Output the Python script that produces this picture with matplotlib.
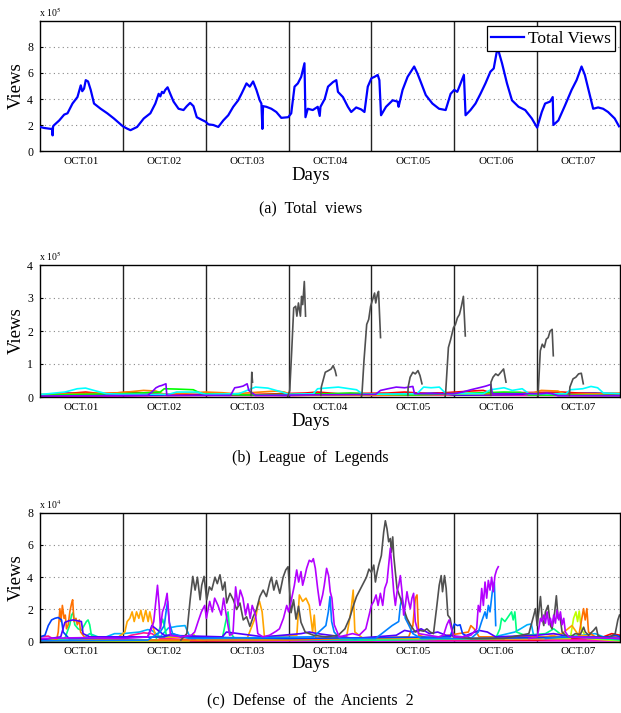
import numpy as np
import matplotlib
matplotlib.use("Agg")
import matplotlib.pyplot as plt

nan = np.nan

day_labels = ["OCT.01", "OCT.02", "OCT.03", "OCT.04", "OCT.05", "OCT.06", "OCT.07"]

# (a) total views: (day, views / 1e5)
total_views = [
    (0.0, 1.85), (0.052, 1.77), (0.132, 1.7), (0.148, 1.72), (0.152, 1.2), (0.158, 1.9),
    (0.172, 2.0), (0.232, 2.35), (0.292, 2.8), (0.332, 2.9), (0.392, 3.65), (0.452, 4.15),
    (0.492, 5.05), (0.51, 4.6), (0.532, 4.8), (0.552, 5.45), (0.58, 5.35), (0.612, 4.7),
    (0.652, 3.65), (0.732, 3.25), (0.812, 2.9), (0.892, 2.5), (1.0, 1.9), (1.052, 1.72),
    (1.092, 1.6), (1.172, 1.85), (1.252, 2.5), (1.332, 2.9), (1.392, 3.65), (1.432, 4.4),
    (1.452, 4.2), (1.472, 4.55), (1.492, 4.45), (1.512, 4.7), (1.54, 4.9), (1.572, 4.4),
    (1.612, 3.8), (1.672, 3.25), (1.732, 3.15), (1.772, 3.45), (1.812, 3.7), (1.852, 3.45),
    (1.892, 2.6), (1.952, 2.4), (2.0, 2.25), (2.032, 2.05), (2.092, 2.0), (2.152, 1.85),
    (2.212, 2.35), (2.272, 2.75), (2.332, 3.4), (2.392, 3.9), (2.432, 4.4), (2.492, 5.2),
    (2.532, 4.95), (2.572, 5.35), (2.612, 4.7), (2.652, 3.9), (2.672, 3.65), (2.684, 1.7),
    (2.692, 3.45), (2.732, 3.4), (2.792, 3.25), (2.852, 3.0), (2.912, 2.55), (2.996, 2.6),
    (3.032, 2.9), (3.072, 4.95), (3.112, 5.2), (3.152, 5.7), (3.192, 6.75), (3.204, 2.6),
    (3.232, 3.25), (3.292, 3.15), (3.352, 3.4), (3.376, 2.7), (3.385, 3.4), (3.436, 4.0),
    (3.476, 4.95), (3.536, 5.3), (3.576, 5.45), (3.596, 4.55), (3.656, 4.15), (3.716, 3.4),
    (3.756, 3.0), (3.816, 3.35), (3.876, 3.2), (3.916, 3.0), (3.956, 4.95), (4.0, 5.6),
    (4.036, 5.7), (4.076, 5.85), (4.096, 5.45), (4.116, 2.75), (4.176, 3.4), (4.256, 3.9),
    (4.316, 3.8), (4.328, 3.4), (4.376, 4.7), (4.436, 5.7), (4.476, 6.1), (4.516, 6.5),
    (4.556, 5.95), (4.596, 5.3), (4.656, 4.3), (4.736, 3.65), (4.816, 3.25), (4.896, 3.15),
    (4.956, 4.4), (5.0, 4.7), (5.036, 4.55), (5.076, 5.2), (5.116, 5.85), (5.136, 2.75),
    (5.196, 3.15), (5.256, 3.65), (5.316, 4.4), (5.376, 5.2), (5.436, 6.1), (5.476, 6.35),
    (5.516, 7.75), (5.536, 7.65), (5.576, 6.75), (5.636, 5.2), (5.696, 3.9), (5.776, 3.4),
    (5.856, 3.15), (5.936, 2.5), (6.0, 1.8), (6.056, 3.0), (6.096, 3.65), (6.156, 3.8),
    (6.188, 4.15), (6.196, 2.0), (6.256, 2.35), (6.336, 3.5), (6.416, 4.7), (6.476, 5.45),
    (6.536, 6.5), (6.576, 5.85), (6.636, 4.3), (6.676, 3.25), (6.736, 3.35), (6.796, 3.25),
    (6.856, 3.0), (6.936, 2.5), (6.988, 1.9),
]

# (b) League of Legends channels: (day, views / 1e5)
lol_gray = [
    (2.548, 0.05), (2.556, 0.75), (2.565, 0.45), (nan, nan),
    (2.99, 0.02), (3.014, 0.2), (3.038, 1.4), (3.062, 2.7), (3.086, 2.75), (3.1, 2.45),
    (3.119, 2.85), (3.143, 2.45), (3.157, 3.05), (3.171, 2.8), (3.19, 3.5), (3.205, 2.45), (nan, nan),
    (3.39, 0.05), (3.395, 0.3), (3.443, 0.75), (3.481, 0.8), (3.514, 0.85), (3.538, 0.95),
    (3.562, 0.8), (3.576, 0.65), (nan, nan),
    (3.88, 0.02), (3.886, 0.1), (3.91, 1.1), (3.943, 2.2), (3.967, 2.35), (3.99, 2.75),
    (4.014, 2.95), (4.038, 3.15), (4.052, 2.85), (4.071, 3.1), (4.086, 3.2), (4.11, 1.8), (nan, nan),
    (4.44, 0.05), (4.443, 0.3), (4.467, 0.6), (4.5, 0.75), (4.529, 0.7), (4.562, 0.8),
    (4.586, 0.65), (4.61, 0.4), (nan, nan),
    (4.89, 0.02), (4.895, 0.1), (4.929, 1.5), (4.957, 1.75), (4.99, 2.1), (5.014, 2.2),
    (5.038, 2.4), (5.062, 2.5), (5.086, 2.75), (5.11, 3.05), (5.133, 1.85), (nan, nan),
    (5.44, 0.05), (5.443, 0.45), (5.467, 0.6), (5.5, 0.7), (5.529, 0.65), (5.562, 0.75),
    (5.595, 0.85), (5.624, 0.45), (nan, nan),
    (6.01, 0.02), (6.014, 0.2), (6.038, 1.4), (6.062, 1.6), (6.086, 1.5), (6.11, 1.75),
    (6.133, 1.8), (6.157, 2.0), (6.181, 2.05), (6.195, 1.25), (nan, nan),
    (6.39, 0.05), (6.395, 0.3), (6.433, 0.55), (6.467, 0.6), (6.5, 0.7), (6.533, 0.72), (6.557, 0.4),
]
lol_purple = [
    (0, 0.03), (1.3, 0.05), (1.35, 0.15), (1.4, 0.28), (1.44, 0.33), (1.47, 0.35), (1.5, 0.38),
    (1.52, 0.4), (1.53, 0.05), (2.3, 0.05), (2.35, 0.28), (2.4, 0.3), (2.45, 0.33), (2.5, 0.4),
    (2.52, 0.2), (2.6, 0.05), (4.05, 0.08), (4.11, 0.2), (4.2, 0.25), (4.3, 0.3), (4.4, 0.28),
    (4.5, 0.32), (4.52, 0.1), (5.0, 0.1), (5.1, 0.15), (5.2, 0.22), (5.3, 0.28), (5.38, 0.33),
    (5.44, 0.38), (5.46, 0.1), (6.05, 0.1), (6.12, 0.12), (6.18, 0.1), (6.25, 0.04), (7, 0.04),
]
lol_cyan = [
    (0, 0.08), (0.1, 0.1), (0.3, 0.15), (0.45, 0.25), (0.55, 0.27), (0.65, 0.2), (0.8, 0.1),
    (1.0, 0.08), (1.55, 0.08), (1.65, 0.15), (1.9, 0.15), (2.0, 0.08), (2.4, 0.1), (2.5, 0.2),
    (2.6, 0.3), (2.75, 0.27), (2.92, 0.15), (3.0, 0.08), (3.3, 0.1), (3.35, 0.25), (3.5, 0.28),
    (3.6, 0.3), (3.82, 0.22), (3.9, 0.08), (4.55, 0.1), (4.63, 0.3), (4.72, 0.28), (4.82, 0.3),
    (4.9, 0.1), (5.35, 0.1), (5.44, 0.22), (5.6, 0.28), (5.7, 0.2), (5.82, 0.25), (5.9, 0.1),
    (6.35, 0.1), (6.4, 0.22), (6.55, 0.25), (6.65, 0.32), (6.73, 0.28), (6.8, 0.12), (7.0, 0.1),
]
lol_green = [
    (0, 0.05), (0.5, 0.08), (1.0, 0.1), (1.2, 0.12), (1.45, 0.15), (1.5, 0.25), (1.65, 0.24),
    (1.85, 0.22), (1.95, 0.1), (2.5, 0.06), (3.5, 0.1), (3.75, 0.12), (3.9, 0.1), (4.5, 0.06),
    (5.6, 0.15), (5.8, 0.14), (5.9, 0.06), (7, 0.05),
]
lol_orange = [
    (0, 0.08), (0.4, 0.1), (0.9, 0.12), (1.05, 0.15), (1.25, 0.2), (1.4, 0.18), (1.5, 0.08),
    (2.0, 0.15), (2.2, 0.13), (2.35, 0.1), (2.85, 0.18), (2.95, 0.15), (3.05, 0.05), (4.0, 0.05),
    (5.0, 0.08), (5.95, 0.12), (6.05, 0.2), (6.25, 0.18), (6.35, 0.08), (7, 0.12),
]
lol_red = [
    (0, 0.03), (0.3, 0.1), (0.55, 0.15), (0.75, 0.1), (1.1, 0.15), (1.3, 0.1), (2.0, 0.05),
    (2.6, 0.08), (3.2, 0.12), (3.35, 0.15), (3.6, 0.1), (4.2, 0.12), (4.4, 0.15), (4.7, 0.1),
    (5.2, 0.18), (5.35, 0.2), (5.45, 0.12), (6.3, 0.15), (6.5, 0.12), (7, 0.08),
]
lol_blue = [
    (0, 0.05), (0.3, 0.12), (0.6, 0.08), (1.0, 0.05), (2.0, 0.08), (3.0, 0.05), (3.2, 0.1),
    (4.0, 0.08), (4.8, 0.12), (5.0, 0.06), (5.7, 0.08), (6.7, 0.12), (7, 0.1),
]
lol_magenta = [
    (0, 0.02), (1, 0.03), (2, 0.05), (3, 0.04), (3.5, 0.07), (4, 0.05), (5, 0.06), (6, 0.05), (7, 0.04),
]

# (c) Dota 2 channels: (day, views / 1e4)
dota_gray = [
    (1.70, 0.1), (1.772, 0.5), (1.812, 2.6), (1.844, 4.05), (1.872, 3.2), (1.9, 4.0), (1.932, 2.6),
    (1.952, 3.5), (1.98, 4.05), (2.012, 2.6), (2.044, 3.4), (2.072, 3.2), (2.112, 4.0), (2.14, 3.6),
    (2.172, 4.15), (2.204, 3.2), (2.232, 3.7), (2.253, 2.4), (2.293, 3.0), (2.333, 2.6), (2.373, 2.0),
    (2.413, 2.4), (2.453, 1.35), (2.493, 1.55), (2.533, 0.95), (2.573, 1.55), (2.613, 2.0),
    (2.653, 2.8), (2.693, 3.2), (2.733, 2.8), (2.774, 3.7), (2.794, 4.0), (2.822, 3.2), (2.854, 3.8),
    (2.894, 3.0), (2.934, 4.0), (2.966, 4.45), (2.994, 4.65), (3.03, 1.8), (3.06, 2.6), (3.09, 1.4),
    (3.12, 2.2), (3.15, 1.2), (3.2, 0.6), (3.3, 0.4), (3.45, 0.3), (3.6, 0.4), (3.68, 0.8),
    (3.74, 1.5), (3.78, 2.2), (3.82, 2.8), (3.86, 3.2), (3.9, 3.6), (3.94, 4.0), (3.97, 4.5),
    (4.0, 4.3), (4.028, 4.75), (4.048, 3.7), (4.068, 4.3), (4.088, 4.75), (4.12, 5.35), (4.148, 6.8),
    (4.168, 7.5), (4.188, 7.0), (4.208, 6.2), (4.228, 6.4), (4.24, 5.55), (4.257, 6.5), (4.269, 5.35),
    (4.289, 4.3), (4.309, 3.3), (4.349, 2.7), (4.389, 2.05), (4.429, 1.45), (4.469, 1.05),
    (4.529, 0.6), (4.589, 0.7), (4.629, 0.65), (4.669, 0.8), (4.709, 0.6), (4.749, 0.5), (4.79, 2.25),
    (4.818, 3.5), (4.842, 4.1), (4.858, 3.1), (4.882, 4.1), (4.902, 3.3), (4.922, 1.65), (4.95, 1.45),
    (4.99, 0.3), (5.2, 0.2), (5.6, 0.2), (5.9, 0.5), (5.96, 1.65), (5.98, 2.05), (6.0, 1.0),
    (6.02, 1.85), (6.04, 2.8), (6.06, 1.45), (6.08, 1.0), (6.1, 1.85), (6.132, 2.25), (6.16, 1.0),
    (6.18, 0.8), (6.212, 1.85), (6.232, 2.85), (6.253, 1.45), (6.273, 1.65), (6.301, 0.6),
    (6.341, 0.4), (6.401, 0.3), (6.461, 0.5), (6.521, 0.45), (6.561, 0.9), (6.581, 0.6), (6.621, 0.4),
    (6.681, 0.7), (6.713, 0.9), (6.733, 0.4), (6.782, 0.25), (6.862, 0.25), (6.942, 0.5),
    (6.974, 1.35), (6.994, 1.65),
]
dota_purple = [
    (0, 0.2), (0.5, 0.25), (1.0, 0.2), (1.3, 0.3), (1.345, 0.8), (1.373, 1.25), (1.398, 2.5),
    (1.418, 3.5), (1.438, 2.25), (1.454, 0.8), (1.478, 1.85), (1.506, 2.25), (1.534, 3.0),
    (1.554, 1.65), (1.574, 0.4), (1.7, 0.3), (1.827, 0.4), (1.867, 0.6), (1.908, 1.25), (1.948, 1.85),
    (1.988, 2.25), (2.008, 1.45), (2.048, 2.5), (2.08, 1.85), (2.108, 2.7), (2.148, 2.25),
    (2.188, 1.65), (2.216, 2.7), (2.248, 1.65), (2.289, 0.4), (2.329, 0.5), (2.361, 3.4),
    (2.389, 2.25), (2.417, 3.2), (2.449, 2.7), (2.481, 1.65), (2.509, 2.35), (2.537, 1.45),
    (2.561, 2.25), (2.601, 1.65), (2.629, 0.5), (2.689, 0.3), (2.77, 0.4), (2.85, 0.65), (2.89, 0.8),
    (2.938, 1.45), (2.978, 2.25), (3.0, 1.85), (3.03, 2.5), (3.07, 3.5), (3.098, 4.45), (3.122, 3.7),
    (3.15, 4.35), (3.17, 3.5), (3.19, 3.9), (3.218, 4.55), (3.25, 5.05), (3.279, 4.95), (3.299, 5.15),
    (3.323, 4.55), (3.351, 3.3), (3.379, 2.25), (3.411, 2.9), (3.431, 3.5), (3.459, 4.55),
    (3.483, 4.1), (3.503, 3.1), (3.523, 2.7), (3.551, 1.05), (3.611, 0.3), (3.691, 0.4),
    (3.772, 0.5), (3.852, 0.4), (3.932, 0.8), (3.972, 1.65), (4.0, 2.25), (4.028, 2.5), (4.056, 2.9),
    (4.08, 2.25), (4.108, 3.0), (4.136, 2.25), (4.16, 3.3), (4.188, 3.7), (4.208, 4.75), (4.228, 5.8),
    (4.248, 4.55), (4.269, 3.1), (4.289, 2.25), (4.309, 3.1), (4.329, 3.5), (4.349, 4.1),
    (4.369, 3.1), (4.389, 1.65), (4.409, 2.25), (4.429, 3.1), (4.449, 2.5), (4.469, 2.05),
    (4.489, 2.7), (4.509, 3.0), (4.529, 1.25), (4.569, 0.5), (4.689, 0.4), (4.81, 0.3), (4.87, 0.4),
    (4.91, 1.05), (4.938, 1.35), (4.97, 0.7), (4.998, 0.3), (5.1, 0.3), (5.2, 0.4), (5.27, 0.8),
    (5.29, 2.25), (5.31, 1.85), (5.331, 3.3), (5.351, 2.25), (5.371, 3.7), (5.391, 2.7), (5.411, 3.8),
    (5.431, 3.2), (5.451, 4.0), (5.471, 3.1), (5.491, 4.1), (5.511, 4.45), (5.531, 4.65), (nan, nan),
    (5.9, 0.2), (6.0, 0.3), (6.02, 0.8), (6.04, 1.45), (6.06, 1.25), (6.08, 1.65), (6.1, 1.15),
    (6.12, 1.85), (6.14, 1.05), (6.16, 1.45), (6.18, 0.95), (6.2, 1.65), (6.22, 1.15), (6.24, 1.95),
    (6.261, 1.35), (6.281, 1.85), (6.301, 1.05), (6.321, 1.45), (6.341, 0.6), (6.381, 0.3), (7.0, 0.2),
]
dota_dodger = [
    (0, 0.05), (1.3, 0.1), (1.45, 0.6), (1.5, 1.0), (1.52, 1.8), (1.54, 2.5), (1.56, 1.2), (1.6, 0.5),
    (1.8, 0.2), (3.3, 0.3), (3.45, 1.0), (3.48, 1.85), (3.5, 2.8), (3.52, 1.25), (3.55, 0.6),
    (3.62, 0.2), (4.05, 0.2), (4.15, 0.6), (4.25, 1.0), (4.329, 1.25), (4.349, 2.25), (4.369, 2.7),
    (4.389, 2.25), (4.409, 1.45), (4.429, 1.25), (4.449, 1.05), (4.5, 0.5), (4.6, 0.2), (5.2, 0.2),
    (5.29, 0.6), (5.33, 1.25), (5.371, 1.85), (5.391, 1.45), (5.411, 2.25), (5.431, 1.85),
    (5.459, 3.1), (5.483, 3.7), (5.491, 2.5), (5.5, 1.0), (nan, nan), (6.1, 0.2), (6.3, 0.3), (7, 0.2),
]
dota_sky = [
    (0, 0.1), (0.6, 0.2), (0.8, 0.3), (0.9, 0.5), (1.0, 0.5), (1.1, 0.55), (1.2, 0.6), (1.3, 0.75),
    (1.35, 0.7), (1.45, 0.3), (1.55, 0.85), (1.65, 0.95), (1.75, 1.0), (1.8, 0.4), (2.0, 0.1),
    (4.0, 0.1), (5.4, 0.2), (5.73, 0.6), (5.8, 0.8), (5.88, 1.05), (5.93, 1.1), (5.96, 0.3),
    (6.4, 0.3), (6.7, 0.5), (6.8, 0.3), (7, 0.2),
]
dota_orange = [
    (0, 0.05), (0.2, 0.1), (0.22, 0.6), (0.24, 2.05), (0.253, 1.25), (0.27, 2.25), (0.29, 1.45),
    (0.305, 1.65), (0.32, 0.8), (0.34, 1.05), (0.36, 1.85), (0.38, 2.35), (0.394, 2.6), (0.41, 1.25),
    (0.434, 1.45), (0.45, 1.05), (0.474, 1.35), (0.49, 0.6), (0.55, 0.2), (1.0, 0.1), (3.0, 0.1),
    (4.45, 0.3), (4.5, 1.0), (4.53, 2.7), (4.55, 2.9), (4.57, 0.4), (4.7, 0.2), (5.17, 0.6),
    (5.2, 1.0), (5.24, 0.8), (5.3, 0.3), (6.5, 0.3), (6.56, 2.05), (6.58, 1.35), (6.6, 2.05),
    (6.62, 0.6), (6.7, 0.3), (7, 0.3),
]
dota_gold = [
    (0, 0.05), (0.9, 0.1), (1.024, 0.6), (1.052, 1.25), (1.084, 1.45), (1.112, 1.85), (1.137, 1.25),
    (1.165, 1.85), (1.193, 1.45), (1.217, 1.95), (1.245, 1.25), (1.277, 1.95), (1.305, 1.25),
    (1.325, 1.85), (1.357, 1.05), (1.4, 0.3), (2.5, 0.2), (2.609, 1.65), (2.629, 2.25), (2.649, 2.5),
    (2.681, 1.85), (2.709, 0.3), (3.1, 0.4), (3.13, 2.9), (3.17, 2.5), (3.21, 2.7), (3.25, 2.25),
    (3.29, 0.6), (3.31, 1.65), (3.33, 0.2), (3.7, 0.3), (3.752, 1.85), (3.78, 3.2), (3.8, 0.6),
    (3.9, 0.2), (6.0, 0.2), (6.3, 0.5), (6.42, 1.0), (6.5, 0.4), (7, 0.2),
]
dota_green = [
    (0, 0.05), (0.3, 0.2), (0.36, 1.05), (0.38, 1.65), (0.4, 1.8), (0.42, 1.05), (0.46, 0.8),
    (0.5, 0.7), (0.56, 1.25), (0.58, 1.35), (0.6, 1.05), (0.62, 0.4), (0.7, 0.1), (1.4, 0.1),
    (1.45, 0.9), (1.48, 1.4), (1.5, 1.0), (1.53, 0.3), (2.2, 0.2), (2.25, 1.45), (2.27, 1.85),
    (2.29, 0.6), (2.35, 0.2), (4.0, 0.1), (5.5, 0.2), (5.55, 0.8), (5.571, 1.45), (5.611, 1.25),
    (5.651, 1.55), (5.691, 1.85), (5.711, 1.35), (5.731, 1.85), (5.751, 0.6), (5.85, 0.4),
    (6.1, 0.5), (6.2, 0.8), (6.3, 0.4), (7, 0.1),
]
dota_lime = [
    (0, 0.02), (1.8, 0.05), (1.85, 0.5), (1.9, 0.1), (6.4, 0.2), (6.44, 1.45), (6.468, 1.85),
    (6.488, 1.25), (6.508, 1.9), (6.532, 0.8), (6.6, 0.2), (7, 0.05),
]
dota_royal = [
    (0, 0.3), (0.06, 0.4), (0.1, 1.0), (0.14, 1.35), (0.18, 1.45), (0.22, 1.5), (0.26, 1.35),
    (0.28, 0.6), (0.35, 0.2), (1.5, 0.3), (1.6, 0.5), (1.7, 0.3), (3.0, 0.2), (4.95, 0.3),
    (5.0, 1.1), (5.04, 1.0), (5.07, 1.05), (5.1, 0.5), (5.2, 0.2), (6.85, 0.3), (6.95, 0.4), (7.0, 0.3),
]
dota_indigo = [
    (0, 0.1), (0.25, 0.3), (0.3, 1.2), (0.35, 1.3), (0.4, 1.35), (0.45, 1.3), (0.5, 1.25), (0.52, 0.5),
    (0.6, 0.3), (1.3, 0.3), (1.35, 1.0), (1.4, 0.8), (1.5, 0.4), (2.2, 0.3), (2.25, 0.6), (2.4, 0.5),
    (2.55, 0.4), (2.7, 0.3), (3.15, 0.5), (3.25, 0.6), (3.35, 0.5), (3.5, 0.4), (3.8, 0.2),
    (4.3, 0.4), (4.4, 0.7), (4.5, 0.6), (4.6, 0.8), (4.7, 0.5), (4.8, 0.6), (4.9, 0.4), (5.1, 0.3),
    (5.3, 0.7), (5.4, 0.6), (5.5, 0.3), (6.0, 0.4), (6.2, 0.5), (6.4, 0.3), (7, 0.2),
]
dota_pink = [
    (0, 0.3), (0.1, 0.35), (0.15, 0.2), (0.5, 0.1), (1.0, 0.2), (1.1, 0.4), (1.25, 0.55), (1.35, 0.5),
    (1.45, 0.2), (2.0, 0.1), (3.5, 0.2), (4.0, 0.1), (5.0, 0.1), (6.0, 0.15), (7, 0.1),
]
dota_cyan = [
    (0, 0.1), (0.5, 0.1), (0.6, 0.5), (0.7, 0.3), (1.0, 0.08), (2.0, 0.08), (3.0, 0.1), (4.0, 0.12),
    (5.0, 0.1), (6.0, 0.1), (7, 0.1),
]
dota_red = [
    (0, 0.05), (1.0, 0.1), (2.0, 0.05), (3.0, 0.1), (4.0, 0.08), (4.5, 0.2), (5.0, 0.1), (6.0, 0.1),
    (6.8, 0.3), (6.9, 0.5), (7, 0.4),
]
dota_magenta = [(0, 0.03), (2, 0.05), (4, 0.03), (6, 0.06), (7, 0.04)]


def unpack(pairs):
    arr = np.array(pairs, dtype=float)
    return arr[:, 0], arr[:, 1]


plt.rcParams["font.family"] = ["Liberation Serif", "DejaVu Serif"]
plt.rcParams["mathtext.fontset"] = "stix"

W, H = 621, 713
fig = plt.figure(figsize=(W / 100, H / 100), dpi=100)


def make_axes(top, bottom, ymax, yticks, expo, caption, days_y, cap_y):
    ax = fig.add_axes([40 / W, 1 - bottom / H, 580 / W, (bottom - top) / H])
    ax.set_xlim(0, 7)
    ax.set_ylim(0, ymax)
    ax.set_yticks(yticks)
    ax.set_xticks(np.arange(7) + 0.5, day_labels)
    ax.tick_params(axis="x", length=0, labelsize=8, pad=4)
    ax.tick_params(axis="y", length=2, direction="in", labelsize=8.5, pad=5)
    for yt in yticks:
        if 0 < yt < ymax:
            ax.axhline(yt, color="#888888", ls=(0, (1, 3)), lw=0.8, zorder=0)
    for d in range(1, 7):
        ax.axvline(d, color="#222222", lw=1.0, zorder=1)
    for s in ax.spines.values():
        s.set_linewidth(1.0)
    # y label centred about 24 px left of the axis
    ax.set_ylabel("Views", fontsize=13.5, va="center")
    ax.yaxis.set_label_coords(-24 / 580, 0.5)
    ax.text(-0.002, 1.015, r"x 10$^{%d}$" % expo, transform=ax.transAxes,
            fontsize=7, ha="left", va="bottom")
    fig.text(0.5, 1 - days_y / H, "Days", fontsize=13.5, ha="center", va="center")
    fig.text(0.5, 1 - cap_y / H, caption, fontsize=11.5, ha="center", va="center")
    return ax


# (a)
ax_a = make_axes(21, 151, 10, [0, 2, 4, 6, 8], 5, "(a)  Total  views", 175, 208)
t, v = unpack(total_views)
ax_a.plot(t, v, color="#0000FF", lw=1.6, label="Total Views", zorder=3)
leg = ax_a.legend(loc="upper right", fontsize=12.5, fancybox=False, framealpha=1,
                  edgecolor="black", borderpad=0.25, handlelength=1.9,
                  handletextpad=0.2, borderaxespad=0.3)
leg.get_frame().set_linewidth(0.9)

# (b)
ax_b = make_axes(265, 397, 4, [0, 1, 2, 3, 4], 5, "(b)  League  of  Legends", 422, 458)
lol_series = [
    (lol_magenta, "#FF00C0"), (lol_blue, "#0000FF"), (lol_red, "#FF0000"),
    (lol_orange, "#FF8000"), (lol_green, "#00FF00"), (lol_cyan, "#00FFFF"),
    (lol_purple, "#8000FF"), (lol_gray, "#505050"),
]
for pairs, col in lol_series:
    t, v = unpack(pairs)
    ax_b.plot(t, v, color=col, lw=1.2, zorder=2)

# (c)
ax_c = make_axes(512.7, 641.7, 8, [0, 2, 4, 6, 8], 4, "(c)  Defense  of  the  Ancients  2", 664, 700)
dota_series = [
    (dota_cyan, "#00D0D0"), (dota_magenta, "#FF00FF"), (dota_red, "#FF0000"),
    (dota_pink, "#FF1493"), (dota_lime, "#BFFF00"), (dota_sky, "#00B0FF"),
    (dota_green, "#00FF80"), (dota_gold, "#FFA500"), (dota_orange, "#FF7000"),
    (dota_royal, "#0040FF"), (dota_indigo, "#5000FF"), (dota_dodger, "#0080FF"),
    (dota_gray, "#505050"), (dota_purple, "#B400FF"),
]
for pairs, col in dota_series:
    t, v = unpack(pairs)
    ax_c.plot(t, v, color=col, lw=1.2, zorder=2)

fig.savefig("out.png", dpi=100)
